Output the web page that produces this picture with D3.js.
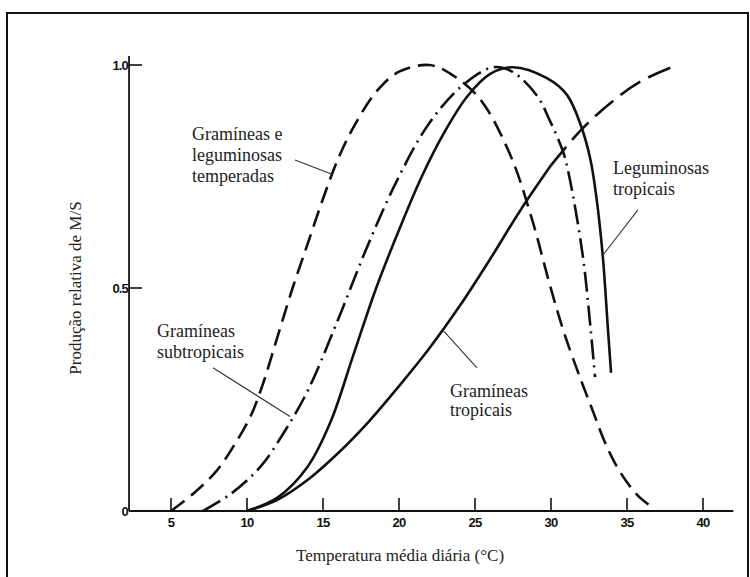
<!DOCTYPE html>
<html>
<head>
<meta charset="utf-8">
<script src="https://cdn.jsdelivr.net/npm/d3@7"></script>
<style>
  html, body { margin: 0; padding: 0; background: #fff; }
  svg { display: block; }
</style>
</head>
<body>
<svg id="chart" width="750" height="577"></svg>
<script>
// Relative dry-matter production versus mean daily temperature, per forage group.
// Points are [temperature °C, relative production].
const temperateCurve = [
  [5, 0], [6.5, 0.04], [8, 0.09], [9.2, 0.15], [10.2, 0.21], [11, 0.28], [12, 0.39],
  [13, 0.50], [14, 0.60], [15, 0.70], [16, 0.79], [17, 0.86], [18.5, 0.94], [20, 0.985],
  [22, 1.0], [23.4, 0.98], [25.3, 0.925], [27.3, 0.80], [28.7, 0.66], [29.9, 0.51],
  [30.8, 0.406], [31.9, 0.30], [32.8, 0.22], [33.6, 0.15], [34.5, 0.09], [35.7, 0.035],
  [36.8, 0.005]
];
const subtropicalGrassCurve = [
  [7.1, 0], [9, 0.04], [10.9, 0.10], [12.5, 0.18], [14, 0.27], [16, 0.43], [18, 0.60],
  [20, 0.75], [22, 0.87], [24.2, 0.955], [26.2, 0.995], [27.5, 0.984], [29.1, 0.93],
  [29.9, 0.877], [30.8, 0.805], [31.25, 0.742], [32.1, 0.57], [32.6, 0.41], [32.9, 0.30]
];
const tropicalLegumeCurve = [
  [10, 0], [12, 0.03], [14, 0.10], [15.5, 0.20], [17, 0.35], [18.5, 0.50], [20, 0.63],
  [21.5, 0.75], [23, 0.85], [24.5, 0.93], [26, 0.98], [27.5, 0.995], [29.7, 0.971],
  [31.05, 0.933], [32, 0.861], [32.6, 0.787], [33, 0.70], [33.4, 0.574], [33.75, 0.406],
  [33.95, 0.31]
];
// Tropical grasses: measured range (solid) and extension (dashed)
const tropicalGrassCurve = [
  [10, 0], [12, 0.025], [14, 0.07], [16, 0.13], [18, 0.20], [20, 0.28], [22, 0.365],
  [24, 0.46], [26, 0.565], [28, 0.675], [30, 0.775]
];
const tropicalGrassExtension = [
  [30, 0.775], [32, 0.855], [34.1, 0.92], [36, 0.965], [38.3, 1.0]
];

const xTicks = [5, 10, 15, 20, 25, 30, 35, 40];
const yTicks = [0, 0.5, 1.0];
const yTickLabels = ["0", "0.5", "1.0"];

// Labels: text lines, anchor of first line, and leader line (data units)
const labels = [
  { lines: ["Gramíneas e", "leguminosas", "temperadas"], at: [6.38, 0.832], step: 21,
    leader: [[13.16, 0.787], [15.59, 0.755]] },
  { lines: ["Gramíneas", "subtropicais"], at: [4.08, 0.390], step: 21,
    leader: [[7.76, 0.321], [12.83, 0.212]] },
  { lines: ["Leguminosas", "tropicais"], at: [34.08, 0.756], step: 21,
    leader: [[35.72, 0.675], [33.42, 0.574]] },
  { lines: ["Gramíneas", "tropicais"], at: [23.36, 0.256], step: 19,
    leader: [[22.9, 0.405], [25.13, 0.321]] }
];

const svg = d3.select("#chart");
const x = d3.scaleLinear().domain([5, 40]).range([171, 703]);
const y = d3.scaleLinear().domain([0, 1]).range([511, 65]);

// page frame
svg.append("rect")
  .attr("x", 7).attr("y", 13).attr("width", 741).attr("height", 620)
  .attr("fill", "none").attr("stroke", "#111").attr("stroke-width", 2);

// axes
const axisG = svg.append("g").attr("stroke", "#111");
axisG.append("line")
  .attr("x1", x(2.24)).attr("x2", x(42)).attr("y1", y(0)).attr("y2", y(0))
  .attr("stroke-width", 1.8);
axisG.append("line")
  .attr("x1", x(2.24)).attr("x2", x(2.24)).attr("y1", y(0)).attr("y2", y(1.02))
  .attr("stroke-width", 1.8);

axisG.selectAll(".xt").data(xTicks).join("line")
  .attr("x1", d => x(d)).attr("x2", d => x(d))
  .attr("y1", y(0)).attr("y2", y(0) - 13).attr("stroke-width", 1.6);
axisG.selectAll(".yt").data(yTicks.slice(1)).join("line")
  .attr("x1", x(2.24)).attr("x2", x(2.24) + 13)
  .attr("y1", d => y(d)).attr("y2", d => y(d)).attr("stroke-width", 1.6);

const tickFont = "'Liberation Sans', Arial, sans-serif";
svg.selectAll(".xl").data(xTicks).join("text")
  .attr("x", d => x(d)).attr("y", y(0) + 16)
  .attr("text-anchor", "middle")
  .attr("font-family", tickFont).attr("font-weight", "bold").attr("font-size", 13)
  .attr("letter-spacing", -0.8).attr("fill", "#111")
  .text(d => d);
svg.selectAll(".yl").data(yTicks).join("text")
  .attr("x", x(2.24) - 1).attr("y", d => y(d) + 5)
  .attr("text-anchor", "end")
  .attr("font-family", tickFont).attr("font-weight", "bold").attr("font-size", 13)
  .attr("letter-spacing", -0.8).attr("fill", "#111")
  .text((d, i) => yTickLabels[i]);

const serif = "'Liberation Serif', 'Times New Roman', serif";
svg.append("text")
  .attr("x", 400).attr("y", 561)
  .attr("text-anchor", "middle")
  .attr("font-family", serif).attr("font-size", 17).attr("fill", "#222")
  .text("Temperatura média diária (°C)");
svg.append("text")
  .attr("transform", "translate(81,288) rotate(-90)")
  .attr("text-anchor", "middle")
  .attr("font-family", serif).attr("font-size", 17).attr("fill", "#222")
  .text("Produção relativa de M/S");

// curves
const line = d3.line().x(d => x(d[0])).y(d => y(d[1])).curve(d3.curveCatmullRom.alpha(0.5));
const curves = [
  { data: temperateCurve, dash: "17,8" },
  { data: subtropicalGrassCurve, dash: "20,6,2,6" },
  { data: tropicalLegumeCurve, dash: null },
  { data: tropicalGrassCurve, dash: null },
  { data: tropicalGrassExtension, dash: "24,9" }
];
svg.append("g").selectAll("path").data(curves).join("path")
  .attr("d", d => line(d.data))
  .attr("fill", "none").attr("stroke", "#111").attr("stroke-width", 2.6)
  .attr("stroke-dasharray", d => d.dash);

// labels and leaders
const lab = svg.append("g");
labels.forEach(l => {
  lab.append("line")
    .attr("x1", x(l.leader[0][0])).attr("y1", y(l.leader[0][1]))
    .attr("x2", x(l.leader[1][0])).attr("y2", y(l.leader[1][1]))
    .attr("stroke", "#333").attr("stroke-width", 1.1);
  l.lines.forEach((t, i) => {
    lab.append("text")
      .attr("x", x(l.at[0])).attr("y", y(l.at[1]) + i * l.step)
      .attr("font-family", serif).attr("font-size", 18).attr("fill", "#222")
      .text(t);
  });
});
</script>
</body>
</html>
